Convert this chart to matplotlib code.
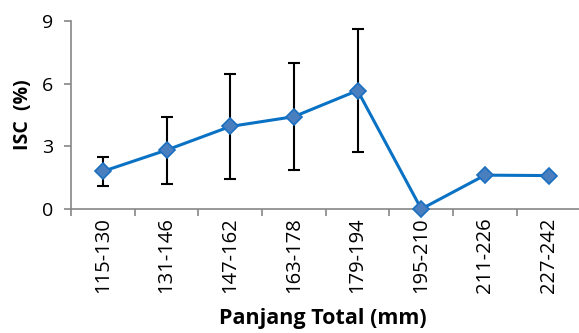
import matplotlib.pyplot as plt
import numpy as np

# Data
categories = ["115-130", "131-146", "147-162", "163-178", "179-194",
              "195-210", "211-226", "227-242"]
isc_values = [1.8, 2.82, 3.95, 4.42, 5.67, 0.0, 1.62, 1.6]
isc_errors = [0.7, 1.6, 2.52, 2.55, 2.95, 0.0, 0.0, 0.0]
y_ticks = [0, 3, 6, 9]

plt.rcParams["font.family"] = ["Open Sans", "DejaVu Sans"]

fig = plt.figure(figsize=(5.79, 3.33), dpi=100)
ax = fig.add_axes([0.1226, 0.3724, 0.88, 0.5646])

x = np.arange(len(categories))
has_err = np.array(isc_errors) > 0
ax.errorbar(x[has_err], np.array(isc_values)[has_err], yerr=np.array(isc_errors)[has_err],
            fmt="none", ecolor="black", elinewidth=1.5, capsize=4, capthick=1.5, zorder=2)
ax.plot(x, isc_values, color="#0A72C4", linewidth=2.2, marker="D", markersize=8,
        markerfacecolor="#4A7FBF", markeredgecolor="#1A6FC0", markeredgewidth=1.2, zorder=3,
        clip_on=False)

ax.set_xlim(-0.5, len(categories) - 0.5)
ax.set_ylim(0, 9)
ax.set_yticks(y_ticks)
ax.set_xticks(np.arange(len(categories) + 1) - 0.5, minor=False)
ax.set_xticklabels([])
ax.set_xticks(x, minor=True)
ax.set_xticklabels(categories, minor=True, rotation=90, fontsize=14.5)
ax.tick_params(axis="x", which="minor", length=0, pad=6)
ax.tick_params(axis="x", which="major", length=5, color="#868686", width=1.2)
ax.tick_params(axis="y", length=5, color="#868686", width=1.2, labelsize=14, pad=8)

for side in ["top", "right"]:
    ax.spines[side].set_visible(False)
for side in ["left", "bottom"]:
    ax.spines[side].set_color("#868686")
    ax.spines[side].set_linewidth(1.2)

# y label sits close to the tick numbers, as in the original
ax.set_ylabel("ISC  (%)", fontsize=14, fontweight="bold")
ax.yaxis.set_label_coords(-0.074, 0.5)
fig.text(0.558, 0.045, "Panjang Total (mm)", fontsize=15.5, fontweight="bold",
         ha="center", va="center")

fig.savefig("out.png", dpi=100)
